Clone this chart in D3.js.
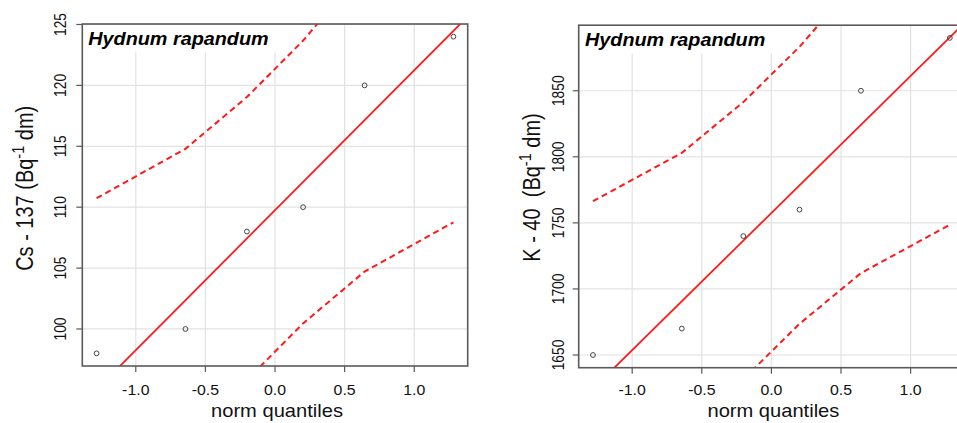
<!DOCTYPE html>
<html>
<head>
<meta charset="utf-8">
<script src="https://cdn.jsdelivr.net/npm/d3@7"></script>
<style>
  html, body { margin: 0; padding: 0; background: #fff; }
  svg { display: block; font-family: "Liberation Sans", Arial, sans-serif; }
  text { white-space: pre; }
</style>
</head>
<body>
<svg id="chart" width="957" height="423"></svg>
<script>
// ---- data ----
const quantiles = [-1.2816, -0.6433, -0.2019, 0.2019, 0.6433, 1.2816];
const cs137 = [98, 100, 108, 110, 120, 124];
const k40 = [1650, 1670, 1740, 1760, 1850, 1890];
const csUpper = [110.74, 114.79, 119.04, 123.68, 129.57, 140.19];
const csLower = [79.31, 89.93, 95.82, 100.46, 104.71, 108.76];
const kUpper = [1766.4, 1803.0, 1841.4, 1883.3, 1936.5, 2032.5];
const kLower = [1482.6, 1578.5, 1631.7, 1673.6, 1712.0, 1748.6];
const refLine = [[109.75, 11.49], [1757.5, 103.78]]; // [intercept, slope]
const xTicks = [-1, -0.5, 0, 0.5, 1];
const xTickLabels = ["-1.0", "-0.5", "0.0", "0.5", "1.0"];
const csTicks = [100, 105, 110, 115, 120, 125];
const kTicks = [1650, 1700, 1750, 1800, 1850];
const speciesName = "Hydnum rapandum";
const xTitle = "norm quantiles";
const yTitles = [["Cs - 137 (Bq", "-1", " dm)"], ["K - 40  (Bq", "-1", " dm)"]];

const panels = [
  { values: cs137, upper: csUpper, lower: csLower, line: refLine[0], ticks: csTicks, ytitle: yTitles[0],
    x0: 82.3, x1: 467.7, y0: 24, y1: 366, ytickX: 65.7, ytitleX: 33.3, ytitleY: 188.3, titleX: 88.3, boxR: 282 },
  { values: k40, upper: kUpper, lower: kLower, line: refLine[1], ticks: kTicks, ytitle: yTitles[1],
    x0: 578.7, x1: 964.1, y0: 25.2, y1: 367.7, ytickX: 563.5, ytitleX: 540, ytitleY: 187.5, titleX: 585, boxR: 779 }
];

const SX = 1.15; // horizontal glyph stretch seen in the reference
const svg = d3.select("#chart");
const borderCol = "#5a5a5a";

panels.forEach((p, i) => {
  const ext = d3.extent(quantiles), dx = (ext[1] - ext[0]) * 0.04;
  const ve = d3.extent(p.values), dy = (ve[1] - ve[0]) * 0.04;
  const x = d3.scaleLinear().domain([ext[0] - dx, ext[1] + dx]).range([p.x0, p.x1]);
  const y = d3.scaleLinear().domain([ve[0] - dy, ve[1] + dy]).range([p.y1, p.y0]);
  const g = svg.append("g");

  const clipId = "clip" + i;
  svg.append("defs").append("clipPath").attr("id", clipId)
    .append("rect").attr("x", p.x0).attr("y", p.y0).attr("width", p.x1 - p.x0).attr("height", p.y1 - p.y0);

  // grid
  g.append("g").selectAll("line").data(xTicks).join("line")
    .attr("x1", d => x(d)).attr("x2", d => x(d)).attr("y1", p.y0).attr("y2", p.y1)
    .attr("stroke", "#e2e2e2").attr("stroke-width", 1.2);
  g.append("g").selectAll("line").data(p.ticks).join("line")
    .attr("x1", p.x0).attr("x2", p.x1).attr("y1", d => y(d)).attr("y2", d => y(d))
    .attr("stroke", "#e2e2e2").attr("stroke-width", 1.2);

  // legend box with title
  g.append("rect").attr("x", p.x0 + 1).attr("y", p.y0 + 1).attr("width", p.boxR - p.x0 - 1).attr("height", 27.5)
    .attr("fill", "#fff");
  g.append("text").attr("transform", `translate(${p.titleX},${p.y0 + 20.6}) scale(1.1,1)`)
    .attr("font-size", 18).attr("font-weight", "bold").attr("font-style", "italic").attr("fill", "#000")
    .text(speciesName);

  const plot = g.append("g").attr("clip-path", `url(#${clipId})`);
  // reference line
  const xd = x.domain();
  plot.append("line")
    .attr("x1", x(xd[0])).attr("y1", y(p.line[0] + p.line[1] * xd[0]))
    .attr("x2", x(xd[1])).attr("y2", y(p.line[0] + p.line[1] * xd[1]))
    .attr("stroke", "#ff1a1a").attr("stroke-width", 1.8);
  // envelope
  const lineGen = d3.line().x((d, k) => x(quantiles[k])).y(d => y(d));
  [p.upper, p.lower].forEach(arr => {
    plot.append("path").attr("d", lineGen(arr)).attr("fill", "none")
      .attr("stroke", "#ff1a1a").attr("stroke-width", 2).attr("stroke-dasharray", "6,4");
  });
  // points
  plot.append("g").selectAll("circle").data(p.values).join("circle")
    .attr("cx", (d, k) => x(quantiles[k])).attr("cy", d => y(d)).attr("r", 2.4)
    .attr("fill", "none").attr("stroke", "#444").attr("stroke-width", 1);

  // frame
  g.append("rect").attr("x", p.x0).attr("y", p.y0).attr("width", p.x1 - p.x0).attr("height", p.y1 - p.y0)
    .attr("fill", "none").attr("stroke", borderCol).attr("stroke-width", 1.6);

  // x axis ticks
  g.append("g").selectAll("line").data(xTicks).join("line")
    .attr("x1", d => x(d)).attr("x2", d => x(d)).attr("y1", p.y1).attr("y2", p.y1 + 6)
    .attr("stroke", borderCol).attr("stroke-width", 1.2);
  g.append("g").selectAll("text").data(xTicks).join("text")
    .attr("transform", d => `translate(${x(d)},395) scale(${SX},1)`)
    .attr("text-anchor", "middle").attr("font-size", 13.8).attr("fill", "#111")
    .text((d, k) => xTickLabels[k]);
  g.append("text").attr("transform", `translate(${(p.x0 + p.x1) / 2 + 2},416.5) scale(${SX},1)`)
    .attr("text-anchor", "middle").attr("font-size", 17.5).attr("fill", "#111").text(xTitle);

  // y axis ticks
  g.append("g").selectAll("line").data(p.ticks).join("line")
    .attr("x1", p.x0 - 6).attr("x2", p.x0).attr("y1", d => y(d)).attr("y2", d => y(d))
    .attr("stroke", borderCol).attr("stroke-width", 1.2);
  g.append("g").selectAll("text").data(p.ticks).join("text")
    .attr("transform", d => `translate(${p.ytickX},${y(d)}) scale(${SX},1) rotate(-90)`)
    .attr("text-anchor", "middle").attr("font-size", 13.8).attr("fill", "#111")
    .text(d => d);
  const yt = g.append("text")
    .attr("transform", `translate(${p.ytitleX},${p.ytitleY}) scale(${SX},1) rotate(-90)`)
    .attr("text-anchor", "middle").attr("font-size", 20).attr("fill", "#111");
  yt.append("tspan").text(p.ytitle[0]);
  yt.append("tspan").attr("font-size", 14.5).attr("dy", -8).text(p.ytitle[1]);
  yt.append("tspan").attr("dy", 8).text(p.ytitle[2]);
});
</script>
</body>
</html>
